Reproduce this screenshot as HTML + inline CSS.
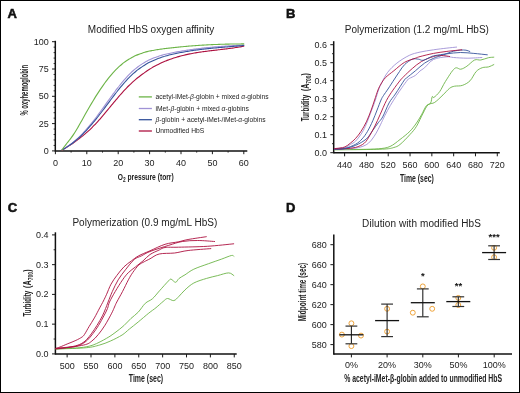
<!DOCTYPE html>
<html><head><meta charset="utf-8"><style>
html,body{margin:0;padding:0;background:#fff;}
#f{position:relative;width:520px;height:393px;overflow:hidden;background:#fff;}
svg{position:absolute;left:0;top:0;font-family:"Liberation Sans",sans-serif;will-change:transform;}
.c{font-weight:bold;}
</style></head><body><div id="f">
<svg width="520" height="393" viewBox="0 0 520 393">
<rect x="0.5" y="0.5" width="519" height="392" fill="#fff" stroke="#000" stroke-width="1"/>
<text x="7.60" y="18.20" font-size="13" text-anchor="start" font-weight="bold" fill="#111" stroke="#111" stroke-width="0.55">A</text>
<text x="87.80" y="33.00" font-size="10" text-anchor="start" fill="#222" >Modified HbS oxygen affinity</text>
<line x1="55.30" y1="40.80" x2="55.30" y2="151.70" stroke="#111" stroke-width="1.5"/>
<line x1="55.30" y1="151.00" x2="247.30" y2="151.00" stroke="#111" stroke-width="1.5"/>
<line x1="52.00" y1="150.90" x2="55.40" y2="150.90" stroke="#1a1a1a" stroke-width="1.0"/>
<text transform="translate(48.80,153.90) scale(0.918,1)" font-size="9.8" text-anchor="end" fill="#222" >0</text>
<line x1="53.60" y1="145.44" x2="55.40" y2="145.44" stroke="#1a1a1a" stroke-width="0.9"/>
<line x1="53.60" y1="139.98" x2="55.40" y2="139.98" stroke="#1a1a1a" stroke-width="0.9"/>
<line x1="53.60" y1="134.52" x2="55.40" y2="134.52" stroke="#1a1a1a" stroke-width="0.9"/>
<line x1="53.60" y1="129.06" x2="55.40" y2="129.06" stroke="#1a1a1a" stroke-width="0.9"/>
<line x1="52.00" y1="123.60" x2="55.40" y2="123.60" stroke="#1a1a1a" stroke-width="1.0"/>
<text transform="translate(48.80,126.60) scale(0.918,1)" font-size="9.8" text-anchor="end" fill="#222" >25</text>
<line x1="53.60" y1="118.14" x2="55.40" y2="118.14" stroke="#1a1a1a" stroke-width="0.9"/>
<line x1="53.60" y1="112.68" x2="55.40" y2="112.68" stroke="#1a1a1a" stroke-width="0.9"/>
<line x1="53.60" y1="107.22" x2="55.40" y2="107.22" stroke="#1a1a1a" stroke-width="0.9"/>
<line x1="53.60" y1="101.76" x2="55.40" y2="101.76" stroke="#1a1a1a" stroke-width="0.9"/>
<line x1="52.00" y1="96.30" x2="55.40" y2="96.30" stroke="#1a1a1a" stroke-width="1.0"/>
<text transform="translate(48.80,99.30) scale(0.918,1)" font-size="9.8" text-anchor="end" fill="#222" >50</text>
<line x1="53.60" y1="90.84" x2="55.40" y2="90.84" stroke="#1a1a1a" stroke-width="0.9"/>
<line x1="53.60" y1="85.38" x2="55.40" y2="85.38" stroke="#1a1a1a" stroke-width="0.9"/>
<line x1="53.60" y1="79.92" x2="55.40" y2="79.92" stroke="#1a1a1a" stroke-width="0.9"/>
<line x1="53.60" y1="74.46" x2="55.40" y2="74.46" stroke="#1a1a1a" stroke-width="0.9"/>
<line x1="52.00" y1="69.00" x2="55.40" y2="69.00" stroke="#1a1a1a" stroke-width="1.0"/>
<text transform="translate(48.80,72.00) scale(0.918,1)" font-size="9.8" text-anchor="end" fill="#222" >75</text>
<line x1="53.60" y1="63.54" x2="55.40" y2="63.54" stroke="#1a1a1a" stroke-width="0.9"/>
<line x1="53.60" y1="58.08" x2="55.40" y2="58.08" stroke="#1a1a1a" stroke-width="0.9"/>
<line x1="53.60" y1="52.62" x2="55.40" y2="52.62" stroke="#1a1a1a" stroke-width="0.9"/>
<line x1="53.60" y1="47.16" x2="55.40" y2="47.16" stroke="#1a1a1a" stroke-width="0.9"/>
<line x1="52.00" y1="41.70" x2="55.40" y2="41.70" stroke="#1a1a1a" stroke-width="1.0"/>
<text transform="translate(48.80,44.70) scale(0.918,1)" font-size="9.8" text-anchor="end" fill="#222" >100</text>
<line x1="55.40" y1="151.00" x2="55.40" y2="154.20" stroke="#1a1a1a" stroke-width="1.0"/>
<text transform="translate(55.40,165.70) scale(0.918,1)" font-size="9.8" text-anchor="middle" fill="#222" >0</text>
<line x1="71.10" y1="151.00" x2="71.10" y2="152.60" stroke="#1a1a1a" stroke-width="0.9"/>
<line x1="86.80" y1="151.00" x2="86.80" y2="154.20" stroke="#1a1a1a" stroke-width="1.0"/>
<text transform="translate(86.80,165.70) scale(0.918,1)" font-size="9.8" text-anchor="middle" fill="#222" >10</text>
<line x1="102.50" y1="151.00" x2="102.50" y2="152.60" stroke="#1a1a1a" stroke-width="0.9"/>
<line x1="118.20" y1="151.00" x2="118.20" y2="154.20" stroke="#1a1a1a" stroke-width="1.0"/>
<text transform="translate(118.20,165.70) scale(0.918,1)" font-size="9.8" text-anchor="middle" fill="#222" >20</text>
<line x1="133.90" y1="151.00" x2="133.90" y2="152.60" stroke="#1a1a1a" stroke-width="0.9"/>
<line x1="149.60" y1="151.00" x2="149.60" y2="154.20" stroke="#1a1a1a" stroke-width="1.0"/>
<text transform="translate(149.60,165.70) scale(0.918,1)" font-size="9.8" text-anchor="middle" fill="#222" >30</text>
<line x1="165.30" y1="151.00" x2="165.30" y2="152.60" stroke="#1a1a1a" stroke-width="0.9"/>
<line x1="181.00" y1="151.00" x2="181.00" y2="154.20" stroke="#1a1a1a" stroke-width="1.0"/>
<text transform="translate(181.00,165.70) scale(0.918,1)" font-size="9.8" text-anchor="middle" fill="#222" >40</text>
<line x1="196.70" y1="151.00" x2="196.70" y2="152.60" stroke="#1a1a1a" stroke-width="0.9"/>
<line x1="212.40" y1="151.00" x2="212.40" y2="154.20" stroke="#1a1a1a" stroke-width="1.0"/>
<text transform="translate(212.40,165.70) scale(0.918,1)" font-size="9.8" text-anchor="middle" fill="#222" >50</text>
<line x1="228.10" y1="151.00" x2="228.10" y2="152.60" stroke="#1a1a1a" stroke-width="0.9"/>
<line x1="243.80" y1="151.00" x2="243.80" y2="154.20" stroke="#1a1a1a" stroke-width="1.0"/>
<text transform="translate(243.80,165.70) scale(0.918,1)" font-size="9.8" text-anchor="middle" fill="#222" >60</text>
<text transform="translate(27.5,115.6) rotate(-90)" font-size="10" textLength="50.6" lengthAdjust="spacingAndGlyphs" class="c" fill="#222">% oxyhemoglobin</text>
<text x="117.7" y="180.1" font-size="9.8" fill="#222" textLength="56" lengthAdjust="spacingAndGlyphs" class="c">O<tspan font-size="7" dy="1.8">2</tspan><tspan dy="-1.8"> pressure (torr)</tspan></text>
<path d="M62.10,150.19 C62.48,149.95 63.63,149.23 64.40,148.75 C65.17,148.27 65.93,147.79 66.70,147.30 C67.47,146.81 68.23,146.32 69.00,145.82 C69.77,145.31 70.53,144.81 71.30,144.29 C72.07,143.78 72.83,143.26 73.60,142.73 C74.37,142.20 75.13,141.66 75.90,141.11 C76.67,140.56 77.43,140.00 78.20,139.42 C78.97,138.85 79.73,138.27 80.50,137.67 C81.27,137.07 82.03,136.47 82.80,135.84 C83.57,135.22 84.33,134.58 85.10,133.92 C85.87,133.27 86.63,132.60 87.40,131.91 C88.17,131.23 88.93,130.53 89.70,129.80 C90.47,129.08 91.23,128.34 92.00,127.58 C92.77,126.82 93.53,126.04 94.30,125.24 C95.07,124.44 95.83,123.62 96.60,122.79 C97.37,121.95 98.13,121.10 98.90,120.24 C99.67,119.37 100.43,118.49 101.20,117.60 C101.97,116.71 102.73,115.81 103.50,114.90 C104.27,114.00 105.03,113.08 105.80,112.16 C106.57,111.24 107.33,110.31 108.10,109.38 C108.87,108.45 109.63,107.52 110.40,106.59 C111.17,105.66 111.93,104.73 112.70,103.80 C113.47,102.88 114.23,101.95 115.00,101.03 C115.77,100.12 116.53,99.20 117.30,98.30 C118.07,97.40 118.83,96.50 119.60,95.62 C120.37,94.74 121.13,93.87 121.90,93.02 C122.67,92.16 123.43,91.32 124.20,90.49 C124.97,89.67 125.73,88.86 126.50,88.08 C127.27,87.29 128.03,86.52 128.80,85.76 C129.57,85.01 130.33,84.28 131.10,83.56 C131.87,82.84 132.63,82.14 133.40,81.45 C134.17,80.76 134.93,80.09 135.70,79.44 C136.47,78.79 137.23,78.15 138.00,77.53 C138.77,76.90 139.53,76.30 140.30,75.71 C141.07,75.12 141.83,74.54 142.60,73.98 C143.37,73.41 144.13,72.87 144.90,72.33 C145.67,71.80 146.43,71.28 147.20,70.78 C147.97,70.27 148.73,69.78 149.50,69.30 C150.27,68.82 151.03,68.36 151.80,67.90 C152.57,67.45 153.33,67.01 154.10,66.58 C154.87,66.16 155.63,65.74 156.40,65.34 C157.17,64.94 157.93,64.55 158.70,64.17 C159.47,63.79 160.23,63.42 161.00,63.06 C161.77,62.70 162.53,62.36 163.30,62.02 C164.07,61.68 164.83,61.36 165.60,61.04 C166.37,60.73 167.13,60.42 167.90,60.13 C168.67,59.83 169.43,59.55 170.20,59.27 C170.97,58.99 171.73,58.73 172.50,58.47 C173.27,58.21 174.03,57.96 174.80,57.72 C175.57,57.47 176.33,57.24 177.10,57.01 C177.87,56.79 178.63,56.57 179.40,56.36 C180.17,56.15 180.93,55.95 181.70,55.75 C182.47,55.56 183.23,55.37 184.00,55.18 C184.77,55.00 185.53,54.82 186.30,54.65 C187.07,54.48 187.83,54.32 188.60,54.16 C189.37,54.00 190.13,53.85 190.90,53.70 C191.67,53.55 192.43,53.41 193.20,53.27 C193.97,53.14 194.73,53.00 195.50,52.87 C196.27,52.74 197.03,52.62 197.80,52.50 C198.57,52.38 199.33,52.26 200.10,52.15 C200.87,52.03 201.63,51.92 202.40,51.81 C203.17,51.71 203.93,51.60 204.70,51.50 C205.47,51.40 206.23,51.30 207.00,51.20 C207.77,51.10 208.53,51.01 209.30,50.91 C210.07,50.82 210.83,50.72 211.60,50.63 C212.37,50.54 213.13,50.45 213.90,50.36 C214.67,50.27 215.43,50.18 216.20,50.09 C216.97,50.00 217.73,49.91 218.50,49.82 C219.27,49.73 220.03,49.64 220.80,49.55 C221.57,49.46 222.33,49.37 223.10,49.28 C223.87,49.19 224.63,49.10 225.40,49.00 C226.17,48.91 226.93,48.81 227.70,48.71 C228.47,48.61 229.23,48.51 230.00,48.41 C230.77,48.31 231.53,48.20 232.30,48.09 C233.07,47.98 233.83,47.87 234.60,47.76 C235.37,47.64 236.13,47.52 236.90,47.40 C237.67,47.28 238.43,47.15 239.20,47.02 C239.97,46.89 240.73,46.76 241.50,46.62 C242.27,46.48 243.42,46.26 243.80,46.18" fill="none" stroke="#ad1140" stroke-width="1.1" stroke-linejoin="round" stroke-linecap="round"/>
<path d="M62.10,149.63 C62.48,149.43 63.63,148.86 64.40,148.43 C65.17,148.00 65.93,147.54 66.70,147.05 C67.47,146.57 68.23,146.06 69.00,145.52 C69.77,144.99 70.53,144.42 71.30,143.83 C72.07,143.25 72.83,142.63 73.60,142.00 C74.37,141.36 75.13,140.70 75.90,140.02 C76.67,139.33 77.43,138.63 78.20,137.90 C78.97,137.17 79.73,136.42 80.50,135.65 C81.27,134.88 82.03,134.09 82.80,133.28 C83.57,132.46 84.33,131.63 85.10,130.78 C85.87,129.93 86.63,129.06 87.40,128.17 C88.17,127.28 88.93,126.38 89.70,125.45 C90.47,124.53 91.23,123.59 92.00,122.64 C92.77,121.68 93.53,120.71 94.30,119.72 C95.07,118.73 95.83,117.73 96.60,116.72 C97.37,115.70 98.13,114.67 98.90,113.64 C99.67,112.60 100.43,111.55 101.20,110.50 C101.97,109.45 102.73,108.39 103.50,107.33 C104.27,106.27 105.03,105.20 105.80,104.13 C106.57,103.07 107.33,102.00 108.10,100.93 C108.87,99.87 109.63,98.80 110.40,97.75 C111.17,96.69 111.93,95.63 112.70,94.59 C113.47,93.55 114.23,92.51 115.00,91.49 C115.77,90.46 116.53,89.45 117.30,88.45 C118.07,87.45 118.83,86.46 119.60,85.49 C120.37,84.53 121.13,83.57 121.90,82.64 C122.67,81.71 123.43,80.80 124.20,79.91 C124.97,79.02 125.73,78.16 126.50,77.32 C127.27,76.48 128.03,75.66 128.80,74.88 C129.57,74.10 130.33,73.34 131.10,72.61 C131.87,71.88 132.63,71.19 133.40,70.51 C134.17,69.84 134.93,69.19 135.70,68.57 C136.47,67.95 137.23,67.36 138.00,66.78 C138.77,66.21 139.53,65.66 140.30,65.14 C141.07,64.61 141.83,64.11 142.60,63.63 C143.37,63.15 144.13,62.69 144.90,62.25 C145.67,61.81 146.43,61.39 147.20,60.98 C147.97,60.58 148.73,60.20 149.50,59.83 C150.27,59.47 151.03,59.12 151.80,58.79 C152.57,58.45 153.33,58.14 154.10,57.84 C154.87,57.54 155.63,57.25 156.40,56.98 C157.17,56.70 157.93,56.44 158.70,56.19 C159.47,55.95 160.23,55.71 161.00,55.48 C161.77,55.26 162.53,55.05 163.30,54.84 C164.07,54.63 164.83,54.44 165.60,54.25 C166.37,54.06 167.13,53.88 167.90,53.71 C168.67,53.54 169.43,53.37 170.20,53.21 C170.97,53.05 171.73,52.90 172.50,52.74 C173.27,52.59 174.03,52.45 174.80,52.30 C175.57,52.16 176.33,52.02 177.10,51.88 C177.87,51.74 178.63,51.60 179.40,51.47 C180.17,51.33 180.93,51.20 181.70,51.07 C182.47,50.95 183.23,50.82 184.00,50.70 C184.77,50.57 185.53,50.45 186.30,50.33 C187.07,50.21 187.83,50.10 188.60,49.98 C189.37,49.87 190.13,49.76 190.90,49.65 C191.67,49.54 192.43,49.43 193.20,49.33 C193.97,49.22 194.73,49.12 195.50,49.02 C196.27,48.92 197.03,48.82 197.80,48.72 C198.57,48.63 199.33,48.53 200.10,48.44 C200.87,48.35 201.63,48.26 202.40,48.17 C203.17,48.08 203.93,48.00 204.70,47.91 C205.47,47.83 206.23,47.75 207.00,47.67 C207.77,47.59 208.53,47.51 209.30,47.44 C210.07,47.36 210.83,47.29 211.60,47.21 C212.37,47.14 213.13,47.07 213.90,47.00 C214.67,46.93 215.43,46.87 216.20,46.80 C216.97,46.74 217.73,46.67 218.50,46.61 C219.27,46.55 220.03,46.49 220.80,46.43 C221.57,46.37 222.33,46.31 223.10,46.26 C223.87,46.20 224.63,46.15 225.40,46.10 C226.17,46.05 226.93,45.99 227.70,45.95 C228.47,45.90 229.23,45.85 230.00,45.80 C230.77,45.75 231.53,45.71 232.30,45.67 C233.07,45.62 233.83,45.58 234.60,45.54 C235.37,45.50 236.13,45.46 236.90,45.42 C237.67,45.38 238.43,45.34 239.20,45.31 C239.97,45.27 240.73,45.24 241.50,45.20 C242.27,45.17 243.42,45.12 243.80,45.10" fill="none" stroke="#a092d6" stroke-width="1.1" stroke-linejoin="round" stroke-linecap="round"/>
<path d="M62.10,149.67 C62.48,149.47 63.63,148.89 64.40,148.47 C65.17,148.04 65.93,147.60 66.70,147.12 C67.47,146.65 68.23,146.16 69.00,145.64 C69.77,145.13 70.53,144.59 71.30,144.02 C72.07,143.46 72.83,142.88 73.60,142.27 C74.37,141.67 75.13,141.04 75.90,140.40 C76.67,139.75 77.43,139.09 78.20,138.40 C78.97,137.71 79.73,137.01 80.50,136.28 C81.27,135.55 82.03,134.81 82.80,134.05 C83.57,133.28 84.33,132.50 85.10,131.70 C85.87,130.90 86.63,130.08 87.40,129.25 C88.17,128.41 88.93,127.56 89.70,126.69 C90.47,125.82 91.23,124.93 92.00,124.03 C92.77,123.13 93.53,122.21 94.30,121.28 C95.07,120.35 95.83,119.40 96.60,118.44 C97.37,117.48 98.13,116.50 98.90,115.51 C99.67,114.53 100.43,113.53 101.20,112.52 C101.97,111.52 102.73,110.50 103.50,109.49 C104.27,108.47 105.03,107.45 105.80,106.42 C106.57,105.40 107.33,104.37 108.10,103.34 C108.87,102.32 109.63,101.29 110.40,100.27 C111.17,99.25 111.93,98.22 112.70,97.21 C113.47,96.20 114.23,95.19 115.00,94.20 C115.77,93.20 116.53,92.21 117.30,91.24 C118.07,90.26 118.83,89.30 119.60,88.35 C120.37,87.40 121.13,86.46 121.90,85.55 C122.67,84.63 123.43,83.73 124.20,82.85 C124.97,81.98 125.73,81.12 126.50,80.28 C127.27,79.45 128.03,78.64 128.80,77.86 C129.57,77.07 130.33,76.31 131.10,75.58 C131.87,74.85 132.63,74.14 133.40,73.46 C134.17,72.78 134.93,72.12 135.70,71.48 C136.47,70.85 137.23,70.24 138.00,69.65 C138.77,69.06 139.53,68.49 140.30,67.94 C141.07,67.40 141.83,66.87 142.60,66.37 C143.37,65.86 144.13,65.38 144.90,64.91 C145.67,64.44 146.43,64.00 147.20,63.56 C147.97,63.13 148.73,62.72 149.50,62.33 C150.27,61.93 151.03,61.55 151.80,61.19 C152.57,60.82 153.33,60.47 154.10,60.14 C154.87,59.80 155.63,59.48 156.40,59.18 C157.17,58.87 157.93,58.58 158.70,58.30 C159.47,58.01 160.23,57.74 161.00,57.49 C161.77,57.23 162.53,56.98 163.30,56.74 C164.07,56.50 164.83,56.28 165.60,56.06 C166.37,55.84 167.13,55.63 167.90,55.43 C168.67,55.22 169.43,55.03 170.20,54.84 C170.97,54.65 171.73,54.47 172.50,54.29 C173.27,54.11 174.03,53.94 174.80,53.78 C175.57,53.61 176.33,53.45 177.10,53.29 C177.87,53.13 178.63,52.97 179.40,52.82 C180.17,52.67 180.93,52.52 181.70,52.38 C182.47,52.24 183.23,52.10 184.00,51.96 C184.77,51.83 185.53,51.69 186.30,51.56 C187.07,51.43 187.83,51.31 188.60,51.18 C189.37,51.06 190.13,50.94 190.90,50.83 C191.67,50.71 192.43,50.59 193.20,50.48 C193.97,50.37 194.73,50.27 195.50,50.16 C196.27,50.05 197.03,49.95 197.80,49.85 C198.57,49.75 199.33,49.65 200.10,49.56 C200.87,49.46 201.63,49.37 202.40,49.28 C203.17,49.19 203.93,49.10 204.70,49.01 C205.47,48.93 206.23,48.84 207.00,48.76 C207.77,48.68 208.53,48.60 209.30,48.52 C210.07,48.44 210.83,48.36 211.60,48.28 C212.37,48.21 213.13,48.13 213.90,48.06 C214.67,47.99 215.43,47.91 216.20,47.84 C216.97,47.77 217.73,47.70 218.50,47.63 C219.27,47.57 220.03,47.50 220.80,47.43 C221.57,47.37 222.33,47.30 223.10,47.23 C223.87,47.17 224.63,47.10 225.40,47.04 C226.17,46.98 226.93,46.91 227.70,46.85 C228.47,46.79 229.23,46.72 230.00,46.66 C230.77,46.60 231.53,46.54 232.30,46.47 C233.07,46.41 233.83,46.35 234.60,46.28 C235.37,46.22 236.13,46.16 236.90,46.10 C237.67,46.03 238.43,45.97 239.20,45.90 C239.97,45.84 240.73,45.78 241.50,45.71 C242.27,45.65 243.42,45.55 243.80,45.51" fill="none" stroke="#35539b" stroke-width="1.1" stroke-linejoin="round" stroke-linecap="round"/>
<path d="M62.10,149.86 C62.48,149.31 63.63,147.61 64.40,146.55 C65.17,145.49 65.93,144.52 66.70,143.52 C67.47,142.53 68.23,141.59 69.00,140.60 C69.77,139.61 70.53,138.64 71.30,137.60 C72.07,136.56 72.83,135.49 73.60,134.34 C74.37,133.20 75.13,131.99 75.90,130.74 C76.67,129.49 77.43,128.18 78.20,126.86 C78.97,125.54 79.73,124.18 80.50,122.81 C81.27,121.45 82.03,120.05 82.80,118.68 C83.57,117.30 84.33,115.92 85.10,114.56 C85.87,113.20 86.63,111.85 87.40,110.51 C88.17,109.17 88.93,107.84 89.70,106.53 C90.47,105.22 91.23,103.93 92.00,102.65 C92.77,101.37 93.53,100.10 94.30,98.86 C95.07,97.61 95.83,96.38 96.60,95.17 C97.37,93.96 98.13,92.77 98.90,91.61 C99.67,90.44 100.43,89.29 101.20,88.16 C101.97,87.04 102.73,85.93 103.50,84.85 C104.27,83.77 105.03,82.71 105.80,81.68 C106.57,80.65 107.33,79.65 108.10,78.67 C108.87,77.69 109.63,76.74 110.40,75.82 C111.17,74.90 111.93,74.00 112.70,73.14 C113.47,72.27 114.23,71.44 115.00,70.64 C115.77,69.83 116.53,69.06 117.30,68.32 C118.07,67.58 118.83,66.87 119.60,66.19 C120.37,65.50 121.13,64.85 121.90,64.23 C122.67,63.60 123.43,63.00 124.20,62.43 C124.97,61.86 125.73,61.31 126.50,60.79 C127.27,60.27 128.03,59.77 128.80,59.29 C129.57,58.82 130.33,58.37 131.10,57.94 C131.87,57.51 132.63,57.10 133.40,56.72 C134.17,56.33 134.93,55.96 135.70,55.61 C136.47,55.26 137.23,54.94 138.00,54.62 C138.77,54.31 139.53,54.02 140.30,53.74 C141.07,53.46 141.83,53.20 142.60,52.95 C143.37,52.70 144.13,52.47 144.90,52.25 C145.67,52.03 146.43,51.83 147.20,51.63 C147.97,51.44 148.73,51.26 149.50,51.08 C150.27,50.91 151.03,50.75 151.80,50.60 C152.57,50.45 153.33,50.30 154.10,50.17 C154.87,50.03 155.63,49.90 156.40,49.78 C157.17,49.66 157.93,49.54 158.70,49.43 C159.47,49.32 160.23,49.22 161.00,49.11 C161.77,49.01 162.53,48.91 163.30,48.81 C164.07,48.72 164.83,48.62 165.60,48.53 C166.37,48.43 167.13,48.34 167.90,48.25 C168.67,48.16 169.43,48.07 170.20,47.98 C170.97,47.89 171.73,47.81 172.50,47.72 C173.27,47.64 174.03,47.56 174.80,47.47 C175.57,47.39 176.33,47.31 177.10,47.23 C177.87,47.15 178.63,47.08 179.40,47.00 C180.17,46.93 180.93,46.85 181.70,46.78 C182.47,46.71 183.23,46.64 184.00,46.57 C184.77,46.50 185.53,46.43 186.30,46.36 C187.07,46.29 187.83,46.23 188.60,46.17 C189.37,46.10 190.13,46.04 190.90,45.98 C191.67,45.92 192.43,45.86 193.20,45.80 C193.97,45.74 194.73,45.68 195.50,45.63 C196.27,45.57 197.03,45.52 197.80,45.47 C198.57,45.42 199.33,45.36 200.10,45.31 C200.87,45.26 201.63,45.22 202.40,45.17 C203.17,45.12 203.93,45.08 204.70,45.03 C205.47,44.99 206.23,44.95 207.00,44.91 C207.77,44.86 208.53,44.82 209.30,44.79 C210.07,44.75 210.83,44.71 211.60,44.67 C212.37,44.64 213.13,44.60 213.90,44.57 C214.67,44.54 215.43,44.50 216.20,44.47 C216.97,44.44 217.73,44.41 218.50,44.39 C219.27,44.36 220.03,44.33 220.80,44.31 C221.57,44.28 222.33,44.26 223.10,44.23 C223.87,44.21 224.63,44.19 225.40,44.17 C226.17,44.15 226.93,44.13 227.70,44.11 C228.47,44.09 229.23,44.08 230.00,44.06 C230.77,44.05 231.53,44.03 232.30,44.02 C233.07,44.01 233.83,44.00 234.60,43.98 C235.37,43.97 236.13,43.97 236.90,43.96 C237.67,43.95 238.43,43.94 239.20,43.94 C239.97,43.93 240.73,43.93 241.50,43.92 C242.27,43.92 243.42,43.92 243.80,43.92" fill="none" stroke="#6cb447" stroke-width="1.1" stroke-linejoin="round" stroke-linecap="round"/>
<line x1="138.80" y1="96.90" x2="151.90" y2="96.90" stroke="#6cb447" stroke-width="1.3"/>
<text x="155.50" y="99.30" font-size="6.7" text-anchor="start" fill="#222" >acetyl-iMet-<tspan font-style='italic'>β</tspan>-globin + mixed <tspan font-style='italic'>α</tspan>-globins</text>
<line x1="138.80" y1="108.50" x2="151.90" y2="108.50" stroke="#a092d6" stroke-width="1.3"/>
<text x="155.50" y="110.90" font-size="6.7" text-anchor="start" fill="#222" >iMet-<tspan font-style='italic'>β</tspan>-globin + mixed <tspan font-style='italic'>α</tspan>-globins</text>
<line x1="138.80" y1="119.70" x2="151.90" y2="119.70" stroke="#35539b" stroke-width="1.3"/>
<text x="155.50" y="122.10" font-size="6.7" text-anchor="start" fill="#222" ><tspan font-style='italic'>β</tspan>-globin + acetyl-iMet-/iMet-<tspan font-style='italic'>α</tspan>-globins</text>
<line x1="138.80" y1="131.00" x2="151.90" y2="131.00" stroke="#ad1140" stroke-width="1.3"/>
<text x="155.50" y="133.40" font-size="6.7" text-anchor="start" fill="#222" >Unmodified HbS</text>
<text x="285.90" y="18.20" font-size="13" text-anchor="start" font-weight="bold" fill="#111" stroke="#111" stroke-width="0.55">B</text>
<text x="344.80" y="33.00" font-size="10" text-anchor="start" fill="#222" >Polymerization (1.2 mg/mL HbS)</text>
<line x1="333.70" y1="41.20" x2="333.70" y2="153.40" stroke="#111" stroke-width="1.5"/>
<line x1="333.70" y1="152.70" x2="499.80" y2="152.70" stroke="#111" stroke-width="1.5"/>
<line x1="330.30" y1="152.70" x2="333.70" y2="152.70" stroke="#1a1a1a" stroke-width="1.0"/>
<text transform="translate(327.00,155.70) scale(0.918,1)" font-size="9.8" text-anchor="end" fill="#222" >0.0</text>
<line x1="332.00" y1="143.70" x2="333.70" y2="143.70" stroke="#1a1a1a" stroke-width="0.9"/>
<line x1="330.30" y1="134.70" x2="333.70" y2="134.70" stroke="#1a1a1a" stroke-width="1.0"/>
<text transform="translate(327.00,137.70) scale(0.918,1)" font-size="9.8" text-anchor="end" fill="#222" >0.1</text>
<line x1="332.00" y1="125.70" x2="333.70" y2="125.70" stroke="#1a1a1a" stroke-width="0.9"/>
<line x1="330.30" y1="116.70" x2="333.70" y2="116.70" stroke="#1a1a1a" stroke-width="1.0"/>
<text transform="translate(327.00,119.70) scale(0.918,1)" font-size="9.8" text-anchor="end" fill="#222" >0.2</text>
<line x1="332.00" y1="107.70" x2="333.70" y2="107.70" stroke="#1a1a1a" stroke-width="0.9"/>
<line x1="330.30" y1="98.70" x2="333.70" y2="98.70" stroke="#1a1a1a" stroke-width="1.0"/>
<text transform="translate(327.00,101.70) scale(0.918,1)" font-size="9.8" text-anchor="end" fill="#222" >0.3</text>
<line x1="332.00" y1="89.70" x2="333.70" y2="89.70" stroke="#1a1a1a" stroke-width="0.9"/>
<line x1="330.30" y1="80.70" x2="333.70" y2="80.70" stroke="#1a1a1a" stroke-width="1.0"/>
<text transform="translate(327.00,83.70) scale(0.918,1)" font-size="9.8" text-anchor="end" fill="#222" >0.4</text>
<line x1="332.00" y1="71.70" x2="333.70" y2="71.70" stroke="#1a1a1a" stroke-width="0.9"/>
<line x1="330.30" y1="62.70" x2="333.70" y2="62.70" stroke="#1a1a1a" stroke-width="1.0"/>
<text transform="translate(327.00,65.70) scale(0.918,1)" font-size="9.8" text-anchor="end" fill="#222" >0.5</text>
<line x1="332.00" y1="53.70" x2="333.70" y2="53.70" stroke="#1a1a1a" stroke-width="0.9"/>
<line x1="330.30" y1="44.70" x2="333.70" y2="44.70" stroke="#1a1a1a" stroke-width="1.0"/>
<text transform="translate(327.00,47.70) scale(0.918,1)" font-size="9.8" text-anchor="end" fill="#222" >0.6</text>
<line x1="344.61" y1="152.70" x2="344.61" y2="156.30" stroke="#1a1a1a" stroke-width="1.0"/>
<text transform="translate(344.61,167.60) scale(0.918,1)" font-size="9.8" text-anchor="middle" fill="#222" >440</text>
<line x1="366.42" y1="152.70" x2="366.42" y2="156.30" stroke="#1a1a1a" stroke-width="1.0"/>
<text transform="translate(366.42,167.60) scale(0.918,1)" font-size="9.8" text-anchor="middle" fill="#222" >480</text>
<line x1="388.23" y1="152.70" x2="388.23" y2="156.30" stroke="#1a1a1a" stroke-width="1.0"/>
<text transform="translate(388.23,167.60) scale(0.918,1)" font-size="9.8" text-anchor="middle" fill="#222" >520</text>
<line x1="410.04" y1="152.70" x2="410.04" y2="156.30" stroke="#1a1a1a" stroke-width="1.0"/>
<text transform="translate(410.04,167.60) scale(0.918,1)" font-size="9.8" text-anchor="middle" fill="#222" >560</text>
<line x1="431.85" y1="152.70" x2="431.85" y2="156.30" stroke="#1a1a1a" stroke-width="1.0"/>
<text transform="translate(431.85,167.60) scale(0.918,1)" font-size="9.8" text-anchor="middle" fill="#222" >600</text>
<line x1="453.67" y1="152.70" x2="453.67" y2="156.30" stroke="#1a1a1a" stroke-width="1.0"/>
<text transform="translate(453.67,167.60) scale(0.918,1)" font-size="9.8" text-anchor="middle" fill="#222" >640</text>
<line x1="475.48" y1="152.70" x2="475.48" y2="156.30" stroke="#1a1a1a" stroke-width="1.0"/>
<text transform="translate(475.48,167.60) scale(0.918,1)" font-size="9.8" text-anchor="middle" fill="#222" >680</text>
<line x1="497.29" y1="152.70" x2="497.29" y2="156.30" stroke="#1a1a1a" stroke-width="1.0"/>
<text transform="translate(497.29,167.60) scale(0.918,1)" font-size="9.8" text-anchor="middle" fill="#222" >720</text>
<text x="400" y="181.5" font-size="10" fill="#222" textLength="33.8" lengthAdjust="spacingAndGlyphs" class="c">Time (sec)</text>
<g transform="translate(309.1,121.3) rotate(-90)" fill="#222" font-size="10" class="c"><text x="0" y="0" textLength="26.5" lengthAdjust="spacingAndGlyphs">Turbidity</text><text x="30.2" y="0" textLength="18" lengthAdjust="spacingAndGlyphs">(A<tspan font-size="7" dy="1.6">700</tspan><tspan dy="-1.6">)</tspan></text></g>
<path d="M334.50,149.60 C338.75,149.57 352.67,149.53 360.00,149.40 C367.33,149.27 373.50,149.28 378.50,148.80 C383.50,148.32 386.42,148.05 390.00,146.50 C393.58,144.95 396.68,142.03 400.00,139.50 C403.32,136.97 407.15,134.05 409.90,131.30 C412.65,128.55 414.57,125.75 416.50,123.00 C418.43,120.25 419.85,117.68 421.50,114.80 C423.15,111.92 424.88,107.63 426.40,105.70 C427.92,103.77 429.63,104.72 430.60,103.20 C431.57,101.68 431.65,97.57 432.20,96.60 C432.75,95.63 432.65,98.23 433.90,97.40 C435.15,96.57 437.78,94.25 439.70,91.60 C441.62,88.95 442.92,85.35 445.40,81.50 C447.88,77.65 452.03,70.55 454.60,68.50 C457.17,66.45 458.75,69.58 460.80,69.20 C462.85,68.82 464.60,67.73 466.90,66.20 C469.20,64.67 472.28,61.03 474.60,60.00 C476.92,58.97 478.48,60.38 480.80,60.00 C483.12,59.62 486.33,58.17 488.50,57.70 C490.67,57.23 492.92,57.28 493.80,57.20" fill="none" stroke="#6cb447" stroke-width="0.9" stroke-linejoin="round" stroke-linecap="round"/>
<path d="M334.50,149.80 C338.75,149.77 351.58,149.73 360.00,149.60 C368.42,149.47 379.37,149.35 385.00,149.00 C390.63,148.65 391.30,148.25 393.80,147.50 C396.30,146.75 397.32,146.65 400.00,144.50 C402.68,142.35 407.15,137.63 409.90,134.60 C412.65,131.57 414.30,129.88 416.50,126.30 C418.70,122.72 421.17,116.68 423.10,113.10 C425.03,109.52 426.17,106.58 428.10,104.80 C430.03,103.02 432.22,104.05 434.70,102.40 C437.18,100.75 440.52,97.25 443.00,94.90 C445.48,92.55 447.67,89.75 449.60,88.30 C451.53,86.85 452.48,86.68 454.60,86.20 C456.72,85.72 459.73,86.30 462.30,85.40 C464.87,84.50 467.68,83.12 470.00,80.80 C472.32,78.48 474.15,73.68 476.20,71.50 C478.25,69.32 480.25,68.47 482.30,67.70 C484.35,66.93 486.58,67.42 488.50,66.90 C490.42,66.38 492.92,64.98 493.80,64.60" fill="none" stroke="#6cb447" stroke-width="0.9" stroke-linejoin="round" stroke-linecap="round"/>
<path d="M334.50,149.20 C337.08,149.13 345.58,149.18 350.00,148.80 C354.42,148.42 357.92,147.83 361.00,146.90 C364.08,145.97 366.35,144.90 368.50,143.20 C370.65,141.50 372.28,139.02 373.90,136.70 C375.52,134.38 376.78,131.97 378.20,129.30 C379.62,126.63 381.27,123.03 382.40,120.70 C383.53,118.37 383.67,117.85 385.00,115.30 C386.33,112.75 388.45,108.73 390.40,105.40 C392.35,102.07 394.77,98.28 396.70,95.30 C398.63,92.32 400.20,90.05 402.00,87.50 C403.80,84.95 406.30,81.50 407.50,80.00 C408.70,78.50 407.88,79.27 409.20,78.50 C410.52,77.73 413.60,76.65 415.40,75.40 C417.20,74.15 418.47,72.28 420.00,71.00 C421.53,69.72 422.35,69.62 424.60,67.70 C426.85,65.78 429.78,61.32 433.50,59.50 C437.22,57.68 443.55,57.13 446.90,56.80 C450.25,56.47 450.23,57.27 453.60,57.50 C456.97,57.73 462.38,58.20 467.10,58.20 C471.82,58.20 479.43,57.62 481.90,57.50" fill="none" stroke="#a092d6" stroke-width="0.9" stroke-linejoin="round" stroke-linecap="round"/>
<path d="M334.50,148.80 C336.25,148.58 342.37,148.22 345.00,147.50 C347.63,146.78 348.52,145.58 350.30,144.50 C352.08,143.42 353.73,143.00 355.70,141.00 C357.67,139.00 360.32,135.35 362.10,132.50 C363.88,129.65 364.80,127.65 366.40,123.90 C368.00,120.15 370.20,113.98 371.70,110.00 C373.20,106.02 374.27,103.33 375.40,100.00 C376.53,96.67 377.48,92.82 378.50,90.00 C379.52,87.18 379.97,86.05 381.50,83.10 C383.03,80.15 385.13,75.63 387.70,72.30 C390.27,68.97 393.32,65.92 396.90,63.10 C400.48,60.28 405.35,57.23 409.20,55.40 C413.05,53.57 415.95,53.03 420.00,52.10 C424.05,51.17 429.02,50.47 433.50,49.80 C437.98,49.13 443.05,48.55 446.90,48.10 C450.75,47.65 454.98,47.27 456.60,47.10" fill="none" stroke="#a092d6" stroke-width="0.9" stroke-linejoin="round" stroke-linecap="round"/>
<path d="M334.50,149.20 C336.25,149.08 341.47,149.15 345.00,148.50 C348.53,147.85 352.13,146.90 355.70,145.30 C359.27,143.70 363.55,141.40 366.40,138.90 C369.25,136.40 370.83,132.98 372.80,130.30 C374.77,127.62 376.55,125.03 378.20,122.80 C379.85,120.57 380.88,120.22 382.70,116.90 C384.52,113.58 386.98,106.72 389.10,102.90 C391.22,99.08 392.85,97.82 395.40,94.00 C397.95,90.18 402.55,82.67 404.40,80.00 C406.25,77.33 404.67,79.53 406.50,78.00 C408.33,76.47 412.38,73.28 415.40,70.80 C418.42,68.32 421.53,65.20 424.60,63.10 C427.67,61.00 431.23,59.38 433.80,58.20 C436.37,57.02 437.82,56.78 440.00,56.00 C442.18,55.22 444.63,54.30 446.90,53.50 C449.17,52.70 451.35,51.77 453.60,51.20 C455.85,50.63 458.33,50.27 460.40,50.10 C462.47,49.93 464.43,49.97 466.00,50.20 C467.57,50.43 469.17,51.28 469.80,51.50" fill="none" stroke="#35539b" stroke-width="0.9" stroke-linejoin="round" stroke-linecap="round"/>
<path d="M334.50,149.20 C336.25,149.12 341.47,149.00 345.00,148.70 C348.53,148.40 352.48,148.32 355.70,147.40 C358.92,146.48 361.98,145.15 364.30,143.20 C366.62,141.25 367.83,138.57 369.60,135.70 C371.37,132.83 373.13,129.55 374.90,126.00 C376.67,122.45 378.27,118.67 380.20,114.40 C382.13,110.13 384.38,104.43 386.50,100.40 C388.62,96.37 390.57,93.60 392.90,90.20 C395.23,86.80 398.68,82.28 400.50,80.00 C402.32,77.72 401.83,78.42 403.80,76.50 C405.77,74.58 409.35,71.00 412.30,68.50 C415.25,66.00 417.97,63.50 421.50,61.50 C425.03,59.50 430.17,57.50 433.50,56.50 C436.83,55.50 438.82,55.50 441.50,55.50 C444.18,55.50 448.25,56.33 449.60,56.50" fill="none" stroke="#ad1140" stroke-width="0.9" stroke-linejoin="round" stroke-linecap="round"/>
<path d="M334.50,149.20 C336.25,149.07 341.47,149.23 345.00,148.40 C348.53,147.57 352.85,145.78 355.70,144.20 C358.55,142.62 360.13,141.03 362.10,138.90 C364.07,136.77 365.72,134.43 367.50,131.40 C369.28,128.37 371.20,124.27 372.80,120.70 C374.40,117.13 375.73,113.45 377.10,110.00 C378.47,106.55 379.93,102.42 381.00,100.00 C382.07,97.58 382.33,97.33 383.50,95.50 C384.67,93.67 386.17,91.75 388.00,89.00 C389.83,86.25 392.58,81.92 394.50,79.00 C396.42,76.08 397.82,73.90 399.50,71.50 C401.18,69.10 402.47,66.65 404.60,64.60 C406.73,62.55 409.98,60.10 412.30,59.20 C414.62,58.30 416.70,59.02 418.50,59.20 C420.30,59.38 421.05,60.68 423.10,60.30 C425.15,59.92 428.82,57.68 430.80,56.90 C432.78,56.12 432.32,56.12 435.00,55.60 C437.68,55.08 442.67,54.32 446.90,53.80 C451.13,53.28 455.92,52.57 460.40,52.50 C464.88,52.43 469.32,53.02 473.80,53.40 C478.28,53.78 485.05,54.57 487.30,54.80" fill="none" stroke="#35539b" stroke-width="0.9" stroke-linejoin="round" stroke-linecap="round"/>
<path d="M334.50,148.60 C335.42,148.50 338.25,148.28 340.00,148.00 C341.75,147.72 343.28,147.70 345.00,146.90 C346.72,146.10 348.52,144.63 350.30,143.20 C352.08,141.77 353.92,140.27 355.70,138.30 C357.48,136.33 359.22,134.15 361.00,131.40 C362.78,128.65 364.70,125.37 366.40,121.80 C368.10,118.23 369.83,113.63 371.20,110.00 C372.57,106.37 373.47,103.33 374.60,100.00 C375.73,96.67 376.93,92.67 378.00,90.00 C379.07,87.33 379.77,86.05 381.00,84.00 C382.23,81.95 383.27,79.90 385.40,77.70 C387.53,75.50 390.60,73.37 393.80,70.80 C397.00,68.23 401.00,64.40 404.60,62.30 C408.20,60.20 412.83,59.15 415.40,58.20 C417.97,57.25 416.98,57.40 420.00,56.60 C423.02,55.80 429.02,54.27 433.50,53.40 C437.98,52.53 442.20,52.00 446.90,51.40 C451.60,50.80 459.23,50.07 461.70,49.80" fill="none" stroke="#ad1140" stroke-width="0.9" stroke-linejoin="round" stroke-linecap="round"/>
<text x="7.80" y="212.40" font-size="13" text-anchor="start" font-weight="bold" fill="#111" stroke="#111" stroke-width="0.55">C</text>
<text x="72.40" y="226.30" font-size="10" text-anchor="start" fill="#222" textLength="145" lengthAdjust="spacing">Polymerization (0.9 mg/mL HbS)</text>
<line x1="55.40" y1="232.30" x2="55.40" y2="354.70" stroke="#111" stroke-width="1.5"/>
<line x1="55.40" y1="354.00" x2="236.70" y2="354.00" stroke="#111" stroke-width="1.5"/>
<line x1="52.00" y1="353.90" x2="55.40" y2="353.90" stroke="#1a1a1a" stroke-width="1.0"/>
<text transform="translate(48.60,356.90) scale(0.918,1)" font-size="9.8" text-anchor="end" fill="#222" >0.0</text>
<line x1="53.60" y1="339.02" x2="55.40" y2="339.02" stroke="#1a1a1a" stroke-width="0.9"/>
<line x1="52.00" y1="324.15" x2="55.40" y2="324.15" stroke="#1a1a1a" stroke-width="1.0"/>
<text transform="translate(48.60,327.15) scale(0.918,1)" font-size="9.8" text-anchor="end" fill="#222" >0.1</text>
<line x1="53.60" y1="309.27" x2="55.40" y2="309.27" stroke="#1a1a1a" stroke-width="0.9"/>
<line x1="52.00" y1="294.40" x2="55.40" y2="294.40" stroke="#1a1a1a" stroke-width="1.0"/>
<text transform="translate(48.60,297.40) scale(0.918,1)" font-size="9.8" text-anchor="end" fill="#222" >0.2</text>
<line x1="53.60" y1="279.52" x2="55.40" y2="279.52" stroke="#1a1a1a" stroke-width="0.9"/>
<line x1="52.00" y1="264.65" x2="55.40" y2="264.65" stroke="#1a1a1a" stroke-width="1.0"/>
<text transform="translate(48.60,267.65) scale(0.918,1)" font-size="9.8" text-anchor="end" fill="#222" >0.3</text>
<line x1="53.60" y1="249.77" x2="55.40" y2="249.77" stroke="#1a1a1a" stroke-width="0.9"/>
<line x1="52.00" y1="234.90" x2="55.40" y2="234.90" stroke="#1a1a1a" stroke-width="1.0"/>
<text transform="translate(48.60,237.90) scale(0.918,1)" font-size="9.8" text-anchor="end" fill="#222" >0.4</text>
<line x1="67.14" y1="354.00" x2="67.14" y2="357.40" stroke="#1a1a1a" stroke-width="1.0"/>
<text transform="translate(67.14,368.60) scale(0.918,1)" font-size="9.8" text-anchor="middle" fill="#222" >500</text>
<line x1="91.01" y1="354.00" x2="91.01" y2="357.40" stroke="#1a1a1a" stroke-width="1.0"/>
<text transform="translate(91.01,368.60) scale(0.918,1)" font-size="9.8" text-anchor="middle" fill="#222" >550</text>
<line x1="114.89" y1="354.00" x2="114.89" y2="357.40" stroke="#1a1a1a" stroke-width="1.0"/>
<text transform="translate(114.89,368.60) scale(0.918,1)" font-size="9.8" text-anchor="middle" fill="#222" >600</text>
<line x1="138.76" y1="354.00" x2="138.76" y2="357.40" stroke="#1a1a1a" stroke-width="1.0"/>
<text transform="translate(138.76,368.60) scale(0.918,1)" font-size="9.8" text-anchor="middle" fill="#222" >650</text>
<line x1="162.64" y1="354.00" x2="162.64" y2="357.40" stroke="#1a1a1a" stroke-width="1.0"/>
<text transform="translate(162.64,368.60) scale(0.918,1)" font-size="9.8" text-anchor="middle" fill="#222" >700</text>
<line x1="186.51" y1="354.00" x2="186.51" y2="357.40" stroke="#1a1a1a" stroke-width="1.0"/>
<text transform="translate(186.51,368.60) scale(0.918,1)" font-size="9.8" text-anchor="middle" fill="#222" >750</text>
<line x1="210.39" y1="354.00" x2="210.39" y2="357.40" stroke="#1a1a1a" stroke-width="1.0"/>
<text transform="translate(210.39,368.60) scale(0.918,1)" font-size="9.8" text-anchor="middle" fill="#222" >800</text>
<line x1="234.26" y1="354.00" x2="234.26" y2="357.40" stroke="#1a1a1a" stroke-width="1.0"/>
<text transform="translate(234.26,368.60) scale(0.918,1)" font-size="9.8" text-anchor="middle" fill="#222" >850</text>
<text x="128.8" y="381.9" font-size="10" fill="#222" textLength="34.3" lengthAdjust="spacingAndGlyphs" class="c">Time (sec)</text>
<g transform="translate(31.4,316.6) rotate(-90)" fill="#222" font-size="10" class="c"><text x="0" y="0" textLength="25.8" lengthAdjust="spacingAndGlyphs">Turbidity</text><text x="28.6" y="0" textLength="18.6" lengthAdjust="spacingAndGlyphs">(A<tspan font-size="7" dy="1.6">700</tspan><tspan dy="-1.6">)</tspan></text></g>
<path d="M56.00,348.90 C56.67,348.87 56.02,348.90 60.00,348.70 C63.98,348.50 74.38,348.32 79.90,347.70 C85.42,347.08 88.68,346.55 93.10,345.00 C97.52,343.45 102.75,340.45 106.40,338.40 C110.05,336.35 112.08,334.83 115.00,332.70 C117.92,330.57 121.23,327.98 123.90,325.60 C126.57,323.22 128.62,320.63 131.00,318.40 C133.38,316.17 135.82,314.72 138.20,312.20 C140.58,309.68 142.93,305.53 145.30,303.30 C147.67,301.07 150.03,300.88 152.40,298.80 C154.77,296.72 156.83,293.77 159.50,290.80 C162.17,287.83 166.47,282.93 168.40,281.00 C170.33,279.07 169.90,278.98 171.10,279.20 C172.30,279.42 174.27,282.43 175.60,282.30 C176.93,282.17 177.53,279.65 179.10,278.40 C180.67,277.15 182.55,276.33 185.00,274.80 C187.45,273.27 189.88,271.05 193.80,269.20 C197.72,267.35 203.92,265.37 208.50,263.70 C213.08,262.03 217.48,260.57 221.30,259.20 C225.12,257.83 229.32,255.97 231.40,255.50 C233.48,255.03 233.40,256.25 233.80,256.40" fill="none" stroke="#6cb447" stroke-width="0.9" stroke-linejoin="round" stroke-linecap="round"/>
<path d="M56.00,349.00 C56.67,348.98 54.92,349.12 60.00,348.90 C65.08,348.68 79.88,348.35 86.50,347.70 C93.12,347.05 95.73,346.10 99.70,345.00 C103.67,343.90 106.57,342.77 110.30,341.10 C114.03,339.43 118.93,337.00 122.10,335.00 C125.27,333.00 126.62,331.27 129.30,329.10 C131.98,326.93 134.95,324.67 138.20,322.00 C141.45,319.33 145.83,315.48 148.80,313.10 C151.77,310.72 153.62,309.63 156.00,307.70 C158.38,305.77 161.18,303.03 163.10,301.50 C165.02,299.97 165.72,298.65 167.50,298.50 C169.28,298.35 171.87,300.98 173.80,300.60 C175.73,300.22 177.23,297.98 179.10,296.20 C180.97,294.42 182.55,292.10 185.00,289.90 C187.45,287.70 190.20,284.92 193.80,283.00 C197.40,281.08 202.63,279.63 206.60,278.40 C210.57,277.17 213.93,276.52 217.60,275.60 C221.27,274.68 225.90,272.90 228.60,272.90 C231.30,272.90 232.93,275.15 233.80,275.60" fill="none" stroke="#6cb447" stroke-width="0.9" stroke-linejoin="round" stroke-linecap="round"/>
<path d="M56.00,348.80 C56.67,348.75 55.37,349.13 60.00,348.50 C64.63,347.87 78.50,346.23 83.80,345.00 C89.10,343.77 89.37,342.87 91.80,341.10 C94.23,339.33 96.20,337.05 98.40,334.40 C100.60,331.75 102.78,328.73 105.00,325.20 C107.22,321.67 110.12,316.23 111.70,313.20 C113.28,310.17 113.65,308.87 114.50,307.00 C115.35,305.13 115.45,304.60 116.80,302.00 C118.15,299.40 120.67,295.10 122.60,291.40 C124.53,287.70 126.72,282.93 128.40,279.80 C130.08,276.67 131.02,275.02 132.70,272.60 C134.38,270.18 136.57,267.12 138.50,265.30 C140.43,263.48 142.38,262.78 144.30,261.70 C146.22,260.62 147.52,260.08 150.00,258.80 C152.48,257.52 155.10,254.97 159.20,254.00 C163.30,253.03 169.78,253.58 174.60,253.00 C179.42,252.42 182.07,251.23 188.10,250.50 C194.13,249.77 207.02,248.92 210.80,248.60" fill="none" stroke="#ad1140" stroke-width="0.9" stroke-linejoin="round" stroke-linecap="round"/>
<path d="M56.00,348.60 C56.67,348.53 57.00,348.50 60.00,348.20 C63.00,347.90 70.33,347.50 74.00,346.80 C77.67,346.10 79.75,345.13 82.00,344.00 C84.25,342.87 85.67,341.75 87.50,340.00 C89.33,338.25 91.17,335.92 93.00,333.50 C94.83,331.08 96.70,328.42 98.50,325.50 C100.30,322.58 102.30,318.83 103.80,316.00 C105.30,313.17 106.55,310.83 107.50,308.50 C108.45,306.17 108.20,304.85 109.50,302.00 C110.80,299.15 113.12,295.10 115.30,291.40 C117.48,287.70 120.42,282.93 122.60,279.80 C124.78,276.67 126.23,274.77 128.40,272.60 C130.57,270.43 133.18,268.73 135.60,266.80 C138.02,264.87 140.50,263.05 142.90,261.00 C145.30,258.95 147.28,256.33 150.00,254.50 C152.72,252.67 156.70,251.17 159.20,250.00 C161.70,248.83 161.78,247.97 165.00,247.50 C168.22,247.03 171.45,247.40 178.50,247.20 C185.55,247.00 198.10,246.87 207.30,246.30 C216.50,245.73 229.30,244.22 233.70,243.80" fill="none" stroke="#ad1140" stroke-width="0.9" stroke-linejoin="round" stroke-linecap="round"/>
<path d="M56.00,348.50 C56.67,348.42 57.13,348.35 60.00,348.00 C62.87,347.65 69.67,347.12 73.20,346.40 C76.73,345.68 78.98,344.82 81.20,343.70 C83.42,342.58 84.73,341.47 86.50,339.70 C88.27,337.93 90.03,335.52 91.80,333.10 C93.57,330.68 95.33,328.07 97.10,325.20 C98.87,322.33 100.98,318.68 102.40,315.90 C103.82,313.12 104.65,310.82 105.60,308.50 C106.55,306.18 106.97,304.85 108.10,302.00 C109.23,299.15 110.72,295.10 112.40,291.40 C114.08,287.70 116.02,283.42 118.20,279.80 C120.38,276.18 122.83,273.08 125.50,269.70 C128.17,266.32 131.55,261.80 134.20,259.50 C136.85,257.20 138.77,257.23 141.40,255.90 C144.03,254.57 145.43,253.27 150.00,251.50 C154.57,249.73 163.42,246.97 168.80,245.30 C174.18,243.63 177.48,242.30 182.30,241.50 C187.12,240.70 192.32,240.50 197.70,240.50 C203.08,240.50 211.78,241.33 214.60,241.50" fill="none" stroke="#ad1140" stroke-width="0.9" stroke-linejoin="round" stroke-linecap="round"/>
<path d="M56.00,348.20 C56.67,348.00 58.02,347.75 60.00,347.00 C61.98,346.25 65.25,344.80 67.90,343.70 C70.55,342.60 73.57,341.50 75.90,340.40 C78.23,339.30 80.47,338.10 81.90,337.10 C83.33,336.10 83.30,336.17 84.50,334.40 C85.70,332.63 87.45,329.25 89.10,326.50 C90.75,323.75 92.63,321.00 94.40,317.90 C96.17,314.80 98.20,310.72 99.70,307.90 C101.20,305.08 102.25,303.27 103.40,301.00 C104.55,298.73 105.33,297.10 106.60,294.30 C107.87,291.50 109.30,287.33 111.00,284.20 C112.70,281.07 114.63,278.40 116.80,275.50 C118.97,272.60 121.58,269.22 124.00,266.80 C126.42,264.38 128.88,262.82 131.30,261.00 C133.72,259.18 135.38,257.60 138.50,255.90 C141.62,254.20 145.58,252.73 150.00,250.80 C154.42,248.87 160.25,245.80 165.00,244.30 C169.75,242.80 174.65,242.60 178.50,241.80 C182.35,241.00 183.47,240.35 188.10,239.50 C192.73,238.65 203.27,237.17 206.30,236.70" fill="none" stroke="#ad1140" stroke-width="0.9" stroke-linejoin="round" stroke-linecap="round"/>
<text x="285.90" y="211.80" font-size="13" text-anchor="start" font-weight="bold" fill="#111" stroke="#111" stroke-width="0.55">D</text>
<text x="362.10" y="226.70" font-size="10" text-anchor="start" fill="#222" textLength="118.8" lengthAdjust="spacing">Dilution with modified HbS</text>
<line x1="333.80" y1="234.60" x2="333.80" y2="354.70" stroke="#111" stroke-width="1.5"/>
<line x1="333.80" y1="354.00" x2="512.00" y2="354.00" stroke="#111" stroke-width="1.5"/>
<line x1="330.40" y1="344.60" x2="333.80" y2="344.60" stroke="#1a1a1a" stroke-width="1.0"/>
<text transform="translate(326.80,347.60) scale(0.918,1)" font-size="9.8" text-anchor="end" fill="#222" >580</text>
<line x1="330.40" y1="324.62" x2="333.80" y2="324.62" stroke="#1a1a1a" stroke-width="1.0"/>
<text transform="translate(326.80,327.62) scale(0.918,1)" font-size="9.8" text-anchor="end" fill="#222" >600</text>
<line x1="330.40" y1="304.64" x2="333.80" y2="304.64" stroke="#1a1a1a" stroke-width="1.0"/>
<text transform="translate(326.80,307.64) scale(0.918,1)" font-size="9.8" text-anchor="end" fill="#222" >620</text>
<line x1="330.40" y1="284.66" x2="333.80" y2="284.66" stroke="#1a1a1a" stroke-width="1.0"/>
<text transform="translate(326.80,287.66) scale(0.918,1)" font-size="9.8" text-anchor="end" fill="#222" >640</text>
<line x1="330.40" y1="264.68" x2="333.80" y2="264.68" stroke="#1a1a1a" stroke-width="1.0"/>
<text transform="translate(326.80,267.68) scale(0.918,1)" font-size="9.8" text-anchor="end" fill="#222" >660</text>
<line x1="330.40" y1="244.70" x2="333.80" y2="244.70" stroke="#1a1a1a" stroke-width="1.0"/>
<text transform="translate(326.80,247.70) scale(0.918,1)" font-size="9.8" text-anchor="end" fill="#222" >680</text>
<line x1="351.40" y1="354.00" x2="351.40" y2="357.40" stroke="#1a1a1a" stroke-width="1.0"/>
<text transform="translate(351.40,368.40) scale(0.918,1)" font-size="9.8" text-anchor="middle" fill="#222" >0%</text>
<line x1="387.10" y1="354.00" x2="387.10" y2="357.40" stroke="#1a1a1a" stroke-width="1.0"/>
<text transform="translate(387.10,368.40) scale(0.918,1)" font-size="9.8" text-anchor="middle" fill="#222" >20%</text>
<line x1="422.80" y1="354.00" x2="422.80" y2="357.40" stroke="#1a1a1a" stroke-width="1.0"/>
<text transform="translate(422.80,368.40) scale(0.918,1)" font-size="9.8" text-anchor="middle" fill="#222" >30%</text>
<line x1="458.40" y1="354.00" x2="458.40" y2="357.40" stroke="#1a1a1a" stroke-width="1.0"/>
<text transform="translate(458.40,368.40) scale(0.918,1)" font-size="9.8" text-anchor="middle" fill="#222" >50%</text>
<line x1="494.20" y1="354.00" x2="494.20" y2="357.40" stroke="#1a1a1a" stroke-width="1.0"/>
<text transform="translate(494.20,368.40) scale(0.918,1)" font-size="9.8" text-anchor="middle" fill="#222" >100%</text>
<text x="344.2" y="382.3" font-size="10" fill="#222" textLength="157.9" lengthAdjust="spacingAndGlyphs" class="c">% acetyl-iMet-β-globin added to unmodified HbS</text>
<text transform="translate(305.6,321.3) rotate(-90)" font-size="10" fill="#222" textLength="58.5" lengthAdjust="spacingAndGlyphs" class="c">Midpoint time (sec)</text>
<circle cx="351.40" cy="323.30" r="2.45" fill="none" stroke="#eea33a" stroke-width="1.0"/>
<circle cx="351.40" cy="346.10" r="2.45" fill="none" stroke="#eea33a" stroke-width="1.0"/>
<circle cx="341.90" cy="334.60" r="2.45" fill="none" stroke="#eea33a" stroke-width="1.0"/>
<circle cx="361.00" cy="335.60" r="2.45" fill="none" stroke="#eea33a" stroke-width="1.0"/>
<line x1="351.40" y1="326.10" x2="351.40" y2="343.80" stroke="#222" stroke-width="1.1"/>
<line x1="345.50" y1="326.10" x2="357.30" y2="326.10" stroke="#333" stroke-width="1.2"/>
<line x1="345.50" y1="343.80" x2="357.30" y2="343.80" stroke="#333" stroke-width="1.2"/>
<line x1="339.40" y1="334.80" x2="363.40" y2="334.80" stroke="#111" stroke-width="1.3"/>
<circle cx="387.10" cy="308.80" r="2.45" fill="none" stroke="#eea33a" stroke-width="1.0"/>
<circle cx="387.10" cy="331.60" r="2.45" fill="none" stroke="#eea33a" stroke-width="1.0"/>
<line x1="387.10" y1="304.10" x2="387.10" y2="336.60" stroke="#222" stroke-width="1.1"/>
<line x1="381.20" y1="304.10" x2="393.00" y2="304.10" stroke="#333" stroke-width="1.2"/>
<line x1="381.20" y1="336.60" x2="393.00" y2="336.60" stroke="#333" stroke-width="1.2"/>
<line x1="375.10" y1="320.60" x2="399.10" y2="320.60" stroke="#111" stroke-width="1.3"/>
<circle cx="422.80" cy="286.40" r="2.45" fill="none" stroke="#eea33a" stroke-width="1.0"/>
<circle cx="412.80" cy="312.70" r="2.45" fill="none" stroke="#eea33a" stroke-width="1.0"/>
<circle cx="432.20" cy="308.80" r="2.45" fill="none" stroke="#eea33a" stroke-width="1.0"/>
<line x1="422.80" y1="288.90" x2="422.80" y2="316.80" stroke="#222" stroke-width="1.1"/>
<line x1="416.90" y1="288.90" x2="428.70" y2="288.90" stroke="#333" stroke-width="1.2"/>
<line x1="416.90" y1="316.80" x2="428.70" y2="316.80" stroke="#333" stroke-width="1.2"/>
<line x1="410.80" y1="302.70" x2="434.80" y2="302.70" stroke="#111" stroke-width="1.3"/>
<circle cx="458.30" cy="297.90" r="2.45" fill="none" stroke="#eea33a" stroke-width="1.0"/>
<circle cx="458.30" cy="305.00" r="2.45" fill="none" stroke="#eea33a" stroke-width="1.0"/>
<line x1="458.30" y1="296.80" x2="458.30" y2="306.50" stroke="#222" stroke-width="1.1"/>
<line x1="452.40" y1="296.80" x2="464.20" y2="296.80" stroke="#333" stroke-width="1.2"/>
<line x1="452.40" y1="306.50" x2="464.20" y2="306.50" stroke="#333" stroke-width="1.2"/>
<line x1="446.30" y1="301.60" x2="470.30" y2="301.60" stroke="#111" stroke-width="1.3"/>
<circle cx="494.10" cy="247.80" r="2.45" fill="none" stroke="#eea33a" stroke-width="1.0"/>
<circle cx="494.10" cy="257.20" r="2.45" fill="none" stroke="#eea33a" stroke-width="1.0"/>
<line x1="494.10" y1="245.80" x2="494.10" y2="259.50" stroke="#222" stroke-width="1.1"/>
<line x1="488.20" y1="245.80" x2="500.00" y2="245.80" stroke="#333" stroke-width="1.2"/>
<line x1="488.20" y1="259.50" x2="500.00" y2="259.50" stroke="#333" stroke-width="1.2"/>
<line x1="482.10" y1="252.60" x2="506.10" y2="252.60" stroke="#111" stroke-width="1.3"/>
<text x="422.80" y="278.80" font-size="9.5" text-anchor="middle" font-weight="bold" fill="#111" >*</text>
<text x="458.40" y="288.60" font-size="9.5" text-anchor="middle" font-weight="bold" fill="#111" >**</text>
<text x="494.10" y="240.00" font-size="9.5" text-anchor="middle" font-weight="bold" fill="#111" >***</text>
</svg></div></body></html>
